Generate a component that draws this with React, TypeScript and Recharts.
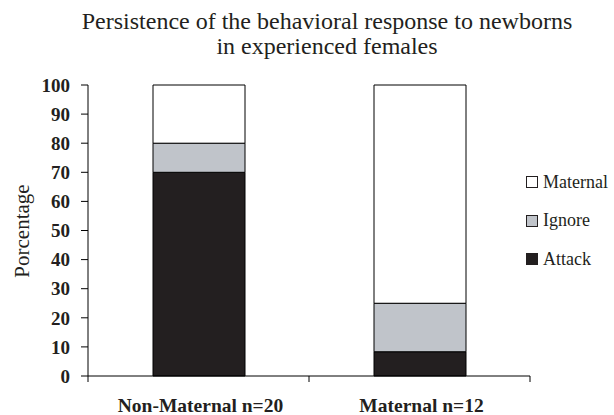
import React from 'react';
import { BarChart, Bar, XAxis, YAxis, Legend } from 'recharts';

const groups = ['Non-Maternal n=20', 'Maternal n=12'];
const attack = [70, 8.33];
const ignore = [10, 16.67];
const maternal = [20, 75];
const yTicks = [0, 10, 20, 30, 40, 50, 60, 70, 80, 90, 100];

const data = groups.map((name, i) => ({
  name,
  Attack: attack[i],
  Ignore: ignore[i],
  Maternal: maternal[i],
}));

const W = 614;
const H = 415;
// plot area: x 88..530, y 85..376
const margin = { top: 85, right: 84, bottom: 9, left: 0 };
const yAxisWidth = 88;
const plotWidth = W - margin.left - margin.right - yAxisWidth;
const band = plotWidth / groups.length;

const serif = '"Liberation Serif", "Times New Roman", serif';
const ink = '#231f20';

const legendItems = [
  { name: 'Maternal', fill: '#ffffff' },
  { name: 'Ignore', fill: '#c0c4ca' },
  { name: 'Attack', fill: ink },
];

function CategoryTick(props: any) {
  const { x, y, payload, index } = props;
  const left = x - band / 2;
  const right = x + band / 2;
  return (
    <g>
      <line x1={left} y1={y} x2={left} y2={y + 6} stroke="#000" />
      {index === groups.length - 1 && <line x1={right} y1={y} x2={right} y2={y + 6} stroke="#000" />}
      <text x={x + 2} y={y + 36} textAnchor="middle" fontFamily={serif} fontWeight="bold" fontSize={19.5} fill={ink}>
        {payload.value}
      </text>
    </g>
  );
}

function LegendBox() {
  return (
    <div style={{ fontFamily: serif, fontSize: 18, color: ink }}>
      {legendItems.map((it) => (
        <div key={it.name} style={{ display: 'flex', alignItems: 'center', height: 38.5 }}>
          <span
            style={{
              display: 'inline-block',
              width: 10,
              height: 10,
              background: it.fill,
              border: '1px solid ' + ink,
              marginRight: 5,
            }}
          />
          {it.name}
        </div>
      ))}
    </div>
  );
}

export default function App() {
  return (
    <div style={{ position: 'absolute', left: 0, top: 0, width: W, height: H, background: '#fff' }}>
      <BarChart width={W} height={H} data={data} margin={margin} barSize={92}>
        <text x={327} y={29} textAnchor="middle" fontFamily={serif} fontSize={24} fill={ink}>
          Persistence of the behavioral response to newborns
        </text>
        <text x={327} y={54} textAnchor="middle" fontFamily={serif} fontSize={24} fill={ink}>
          in experienced females
        </text>
        <text
          x={0}
          y={0}
          transform="translate(29, 231) rotate(-90)"
          textAnchor="middle"
          fontFamily={serif}
          fontSize={21}
          fill={ink}
        >
          Porcentage
        </text>
        <XAxis
          dataKey="name"
          tick={<CategoryTick />}
          tickLine={false}
          tickSize={0}
          tickMargin={0}
          axisLine={{ stroke: '#000' }}
          interval={0}
        />
        <YAxis
          width={yAxisWidth}
          domain={[0, 100]}
          ticks={yTicks}
          interval={0}
          tickSize={7}
          tickMargin={11}
          axisLine={{ stroke: '#000' }}
          tickLine={{ stroke: '#000' }}
          tick={{ fontFamily: serif, fontWeight: 'bold', fontSize: 19, fill: ink }}
        />
        <Legend
          layout="vertical"
          align="center"
          verticalAlign="middle"
          content={<LegendBox />}
          wrapperStyle={{ left: 526, top: 163, width: 90 }}
        />
        <Bar dataKey="Attack" stackId="a" fill={ink} stroke="#000" isAnimationActive={false} />
        <Bar dataKey="Ignore" stackId="a" fill="#c0c4ca" stroke="#000" isAnimationActive={false} />
        <Bar dataKey="Maternal" stackId="a" fill="#ffffff" stroke="#000" isAnimationActive={false} />
      </BarChart>
    </div>
  );
}
